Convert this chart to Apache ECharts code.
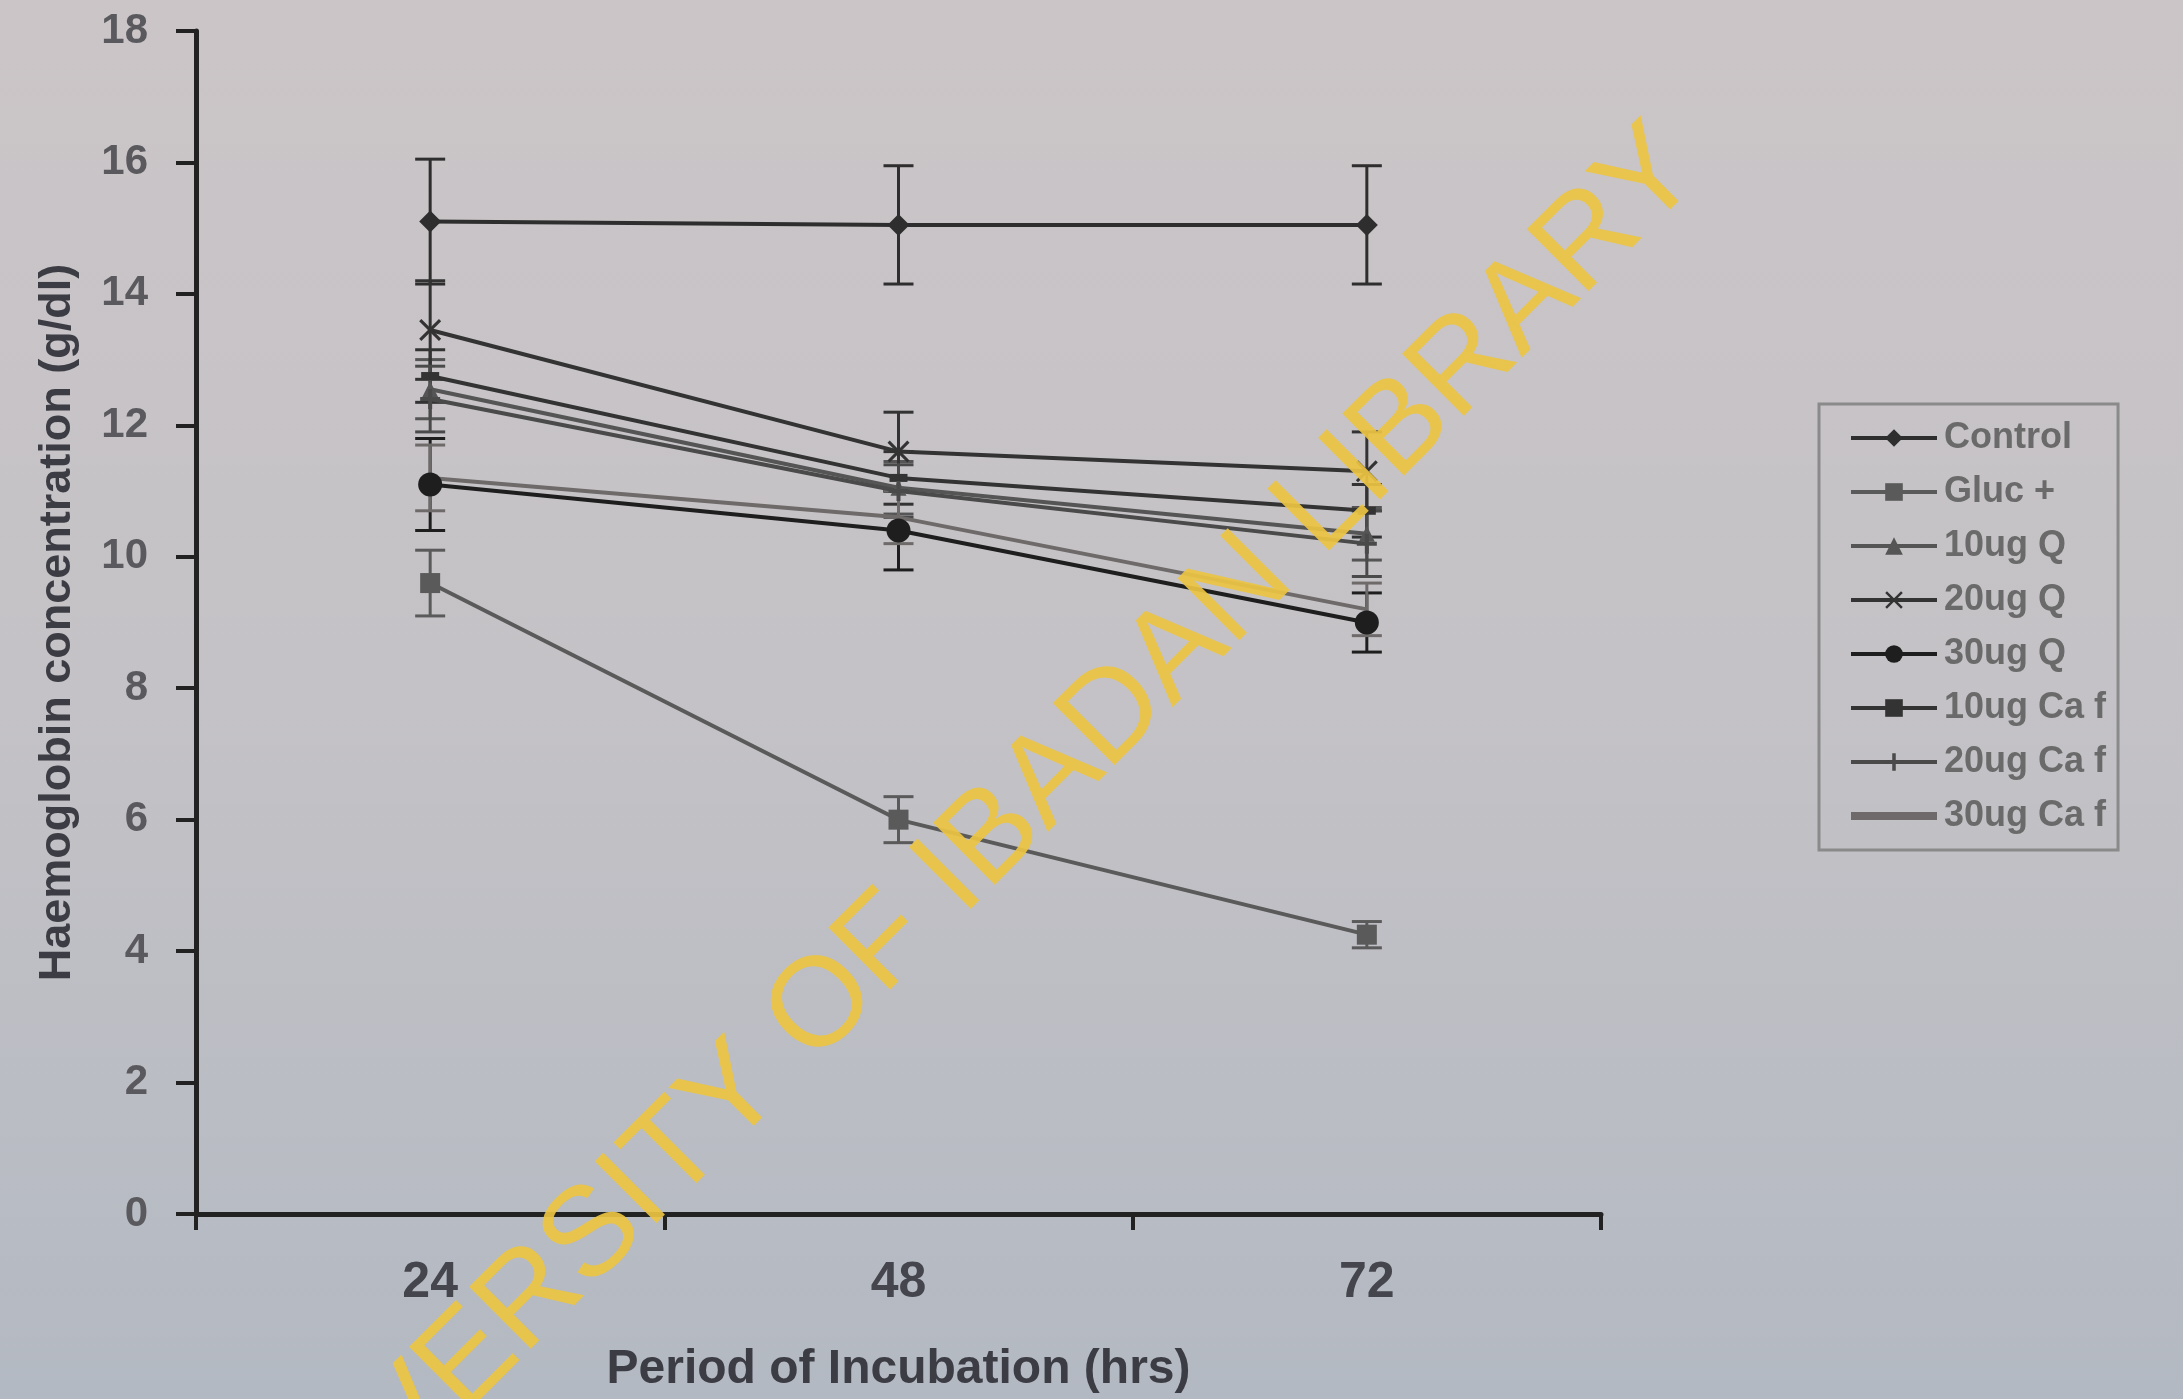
<!DOCTYPE html>
<html><head><meta charset="utf-8">
<script src="https://cdn.jsdelivr.net/npm/echarts@6/dist/echarts.min.js"></script>
<style>html,body{margin:0;padding:0;}#c{width:2183px;height:1399px;}</style>
</head><body><div id="c"></div>
<script>
const categories = ['24', '48', '72'];
const seriesNames = ['Control', 'Gluc +', '10ug Q', '20ug Q', '30ug Q', '10ug Ca f', '20ug Ca f', '30ug Ca f'];
const control = [15.1, 15.05, 15.05];
const controlErr = [0.95, 0.9, 0.9];
const gluc = [9.6, 6.0, 4.25];
const glucErr = [0.5, 0.35, 0.2];
const q10 = [12.55, 11.05, 10.35];
const q10Err = [0.45, 0.4, 0.4];
const q20 = [13.45, 11.6, 11.3];
const q20Err = [0.75, 0.6, 0.6];
const q30 = [11.1, 10.4, 9.0];
const q30Err = [0.7, 0.6, 0.45];
const ca10 = [12.75, 11.2, 10.7];
const ca10Err = [0.4, 0.4, 0.4];
const ca20 = [12.4, 11.0, 10.2];
const ca20Err = [0.5, 0.4, 0.5];
const ca30 = [11.2, 10.6, 9.2];
const ca30Err = [0.5, 0.4, 0.4];

const values = [control, gluc, q10, q20, q30, ca10, ca20, ca30];
const errors = [controlErr, glucErr, q10Err, q20Err, q30Err, ca10Err, ca20Err, ca30Err];

const X_PATH = 'path://M1,0 L5,4 L9,0 L10,1 L6,5 L10,9 L9,10 L5,6 L1,10 L0,9 L4,5 L0,1 Z';
const PLUS_PATH = 'path://M4,0 H6 V4 H10 V6 H6 V10 H4 V6 H0 V4 H4 Z';
const BAR_PATH = 'path://M0,0 H84 V8 H0 Z';
const symbols = ['diamond', 'rect', 'triangle', X_PATH, 'circle', 'rect', PLUS_PATH, 'none'];
const symbolSizes = [22, 20, 16, 22, 24, [18, 8], 20, 0];
const colors = ['#2e2e2e', '#5a5a5a', '#555555', '#333333', '#1e1e1e', '#333333', '#4a4a4a', '#6e6a6a'];

const chart = echarts.init(document.getElementById('c'), null, {renderer: 'canvas'});

const series = [];
values.forEach((v, i) => {
  series.push({
    name: seriesNames[i], type: 'line', data: v,
    symbol: symbols[i], symbolSize: symbolSizes[i], showSymbol: symbols[i] !== 'none',
    lineStyle: {color: colors[i], width: 4},
    itemStyle: {color: colors[i]},
    z: 5
  });
});
errors.forEach((e, i) => {
  series.push({
    type: 'custom', name: seriesNames[i] + ' err', silent: true, z: 4,
    data: values[i].map((v, k) => [k, v - e[k], v + e[k]]),
    encode: {x: 0, y: [1, 2]},
    renderItem: function (params, api) {
      const lo = api.coord([api.value(0), api.value(1)]);
      const hi = api.coord([api.value(0), api.value(2)]);
      const hw = 15;
      const st = {stroke: colors[i], lineWidth: 3};
      return {type: 'group', children: [
        {type: 'line', shape: {x1: lo[0], y1: lo[1], x2: hi[0], y2: hi[1]}, style: st},
        {type: 'line', shape: {x1: lo[0] - hw, y1: lo[1], x2: lo[0] + hw, y2: lo[1]}, style: st},
        {type: 'line', shape: {x1: hi[0] - hw, y1: hi[1], x2: hi[0] + hw, y2: hi[1]}, style: st}
      ]};
    }
  });
});

const legendData = seriesNames.map((n, i) => i === 7 ? {name: n, icon: BAR_PATH} : {name: n});

chart.setOption({
  animation: false,
  backgroundColor: {type: 'linear', x: 0, y: 0, x2: 0, y2: 1, colorStops: [
    {offset: 0, color: '#cbc5c7'}, {offset: 0.5, color: '#c4c2c6'}, {offset: 1, color: '#b3b9c2'}]},
  grid: {left: 196, right: 582, top: 31, bottom: 185},
  legend: {
    data: legendData, orient: 'vertical', left: 1819, top: 404,
    padding: [16, 12, 16, 30],
    borderColor: '#8a8a8a', borderWidth: 3,
    itemWidth: 86, itemHeight: 22, itemGap: 18,
    lineStyle: {width: 4},
    textStyle: {fontFamily: 'Liberation Sans', fontWeight: 'bold', fontSize: 36, color: '#6a6a6a', padding: [0, 0, 0, 2]}
  },
  xAxis: {
    type: 'category', data: categories, boundaryGap: true,
    name: 'Period of Incubation (hrs)', nameLocation: 'middle', nameGap: 132,
    nameTextStyle: {fontFamily: 'Liberation Sans', fontWeight: 'bold', fontSize: 48, color: '#3c3c44'},
    axisLine: {lineStyle: {color: '#222', width: 5}},
    axisTick: {show: true, alignWithLabel: false, length: 16, lineStyle: {color: '#222', width: 4}},
    axisLabel: {margin: 44, fontFamily: 'Liberation Sans', fontWeight: 'bold', fontSize: 50, color: '#45454d'},
    splitLine: {show: false}
  },
  yAxis: {
    type: 'value', min: 0, max: 18, interval: 2,
    name: 'Haemoglobin concentration (g/dl)', nameLocation: 'middle', nameGap: 116, nameRotate: 90,
    nameTextStyle: {fontFamily: 'Liberation Sans', fontWeight: 'bold', fontSize: 45, color: '#3c3c44'},
    axisLine: {show: true, lineStyle: {color: '#222', width: 5}},
    axisTick: {show: true, length: 20, lineStyle: {color: '#222', width: 4}},
    axisLabel: {margin: 48, fontFamily: 'Liberation Sans', fontWeight: 'bold', fontSize: 42, color: '#5a5a5e',
      formatter: v => String(v)},
    splitLine: {show: false}
  },
  graphic: [{
    type: 'text', x: 952, y: 878, rotation: Math.PI / 4, z: 100, silent: true,
    style: {text: 'UNIVERSITY OF IBADAN LIBRARY', fill: 'rgba(236,196,66,0.92)',
      fontFamily: 'Liberation Sans', fontSize: 127, align: 'center', verticalAlign: 'middle'}
  }],
  series: series
});
</script></body></html>
